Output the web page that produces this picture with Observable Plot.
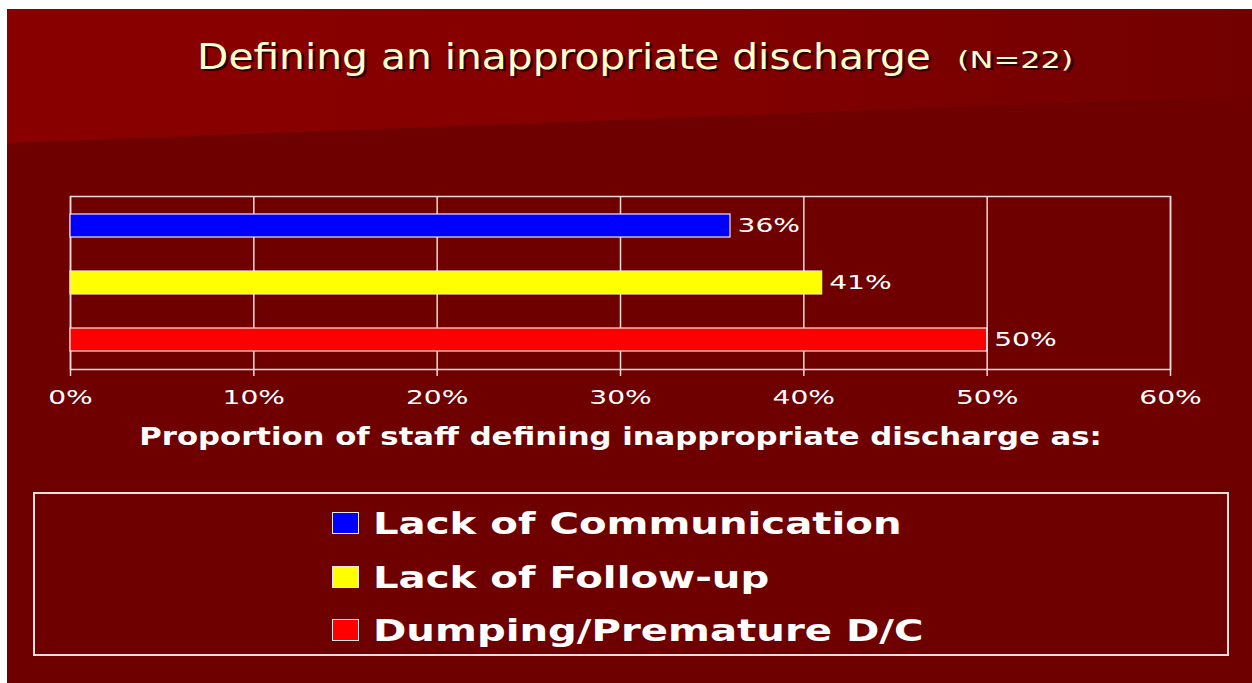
<!DOCTYPE html>
<html>
<head>
<meta charset="utf-8">
<script src="https://cdn.jsdelivr.net/npm/d3@7"></script>
<script src="https://cdn.jsdelivr.net/npm/@observablehq/plot@0.6"></script>
<style>
  html, body { margin: 0; padding: 0; background: #ffffff; }
  #page { position: relative; width: 1252px; height: 683px; overflow: hidden; background: #ffffff;
          font-family: "DejaVu Sans", Verdana, sans-serif; }
  #slide { position: absolute; left: 7px; top: 9px; right: 0; bottom: 0; background: #6f0000; }
  #band { position: absolute; left: 0; top: 0; width: 100%; height: 140px;
          clip-path: polygon(0 0, 100% 0, 100% 87px, 0 134px);
          background: linear-gradient(to right, #8a0000 0%, #860000 45%, #730000 100%); }
  .t { position: absolute; white-space: nowrap; line-height: 1; transform-origin: 0 0; }
  #title { left: 197px; top: 38.5px; font-size: 36px; color: #ffffcc; text-shadow: 2px 2px 0 #2a0000; }
  #titleN { left: 957px; top: 48.5px; font-size: 23px; color: #ffffcc; text-shadow: 2px 2px 0 #2a0000; }
  #chart { position: absolute; left: 0; top: 0; }
  #legend { position: absolute; left: 33px; top: 492px; width: 1196px; height: 164px;
            box-sizing: border-box; border: 2px solid #f2dede; }
  .sw { position: absolute; left: 332px; width: 27px; height: 22px; box-sizing: border-box;
        border: 1.5px solid #f4e6e6; }
  .lt { position: absolute; left: 373px; font-size: 30px; font-weight: bold; color: #ffffff;
        white-space: nowrap; line-height: 1; transform-origin: 0 0; }
</style>
</head>
<body>
<div id="page">
  <div id="slide"><div id="band"></div></div>
  <div id="title" class="t">Defining an inappropriate discharge</div>
  <div id="titleN" class="t">(N=22)</div>
  <div id="chart"></div>
  <div id="legendItems"></div>
  <div id="legend"></div>
</div>
<script>
// ---- data ----
const categories = ["Lack of Communication", "Lack of Follow-up", "Dumping/Premature D/C"];
const values = [36, 41, 50];
const colors = ["#0000ff", "#ffff00", "#ff0000"];
const xTicks = [0, 10, 20, 30, 40, 50, 60];
const xLabel = "Proportion of staff defining inappropriate discharge as:";

const data = categories.map((c, i) => ({category: c, value: values[i]}));

// ---- layout constants ----
const lineColor = "#f0dcdc";
const tickScale = 1.48;
const labelScale = 1.28;
const titleScale = 1.132;
const titleNScale = 1.39;
const legendScale = 1.34;

const chart = Plot.plot({
  width: 1252,
  height: 470,
  marginLeft: 70,
  marginRight: 82,
  marginTop: 196,
  marginBottom: 101,
  style: {background: "transparent", fontFamily: "DejaVu Sans, Verdana, sans-serif", overflow: "visible"},
  x: {domain: [0, 60]},
  y: {domain: categories, paddingInner: 0.6, paddingOuter: 0.3, axis: null},
  color: {domain: categories, range: colors},
  marks: [
    Plot.gridX(xTicks, {stroke: lineColor, strokeOpacity: 1, strokeWidth: 1.5}),
    Plot.frame({stroke: lineColor, strokeWidth: 1.5}),
    Plot.barX(data, {x: "value", y: "category", fill: "category", stroke: "#f4e4e4", strokeWidth: 1.2}),
    Plot.text(data, {x: "value", y: "category", text: d => d.value + "%", textAnchor: "start",
                     dx: 7, fill: "#ffffff", fontSize: 19}),
    Plot.axisX({ticks: xTicks, tickFormat: d => d + "%", tickSize: 7, tickPadding: 14,
                fontSize: 19, fill: "#ffffff", stroke: lineColor, strokeWidth: 1.5,
                label: xLabel, labelAnchor: "center", labelOffset: 75, labelArrow: "none"})
  ]
});
document.getElementById("chart").appendChild(chart);

function stretch(nodes, k) {
  nodes.forEach(t => {
    const L = t.getComputedTextLength();
    t.setAttribute("textLength", (L * k).toFixed(1));
    t.setAttribute("lengthAdjust", "spacingAndGlyphs");
  });
}
const lab = chart.querySelectorAll('g[aria-label="x-axis label"] text');
lab.forEach(t => { t.style.fontSize = "24px"; t.style.fontWeight = "bold"; t.setAttribute("fill", "#ffffff"); });
stretch(lab, labelScale);
stretch(chart.querySelectorAll('g[aria-label="x-axis tick label"] text'), tickScale);
stretch(chart.querySelectorAll('g[aria-label="text"] text'), tickScale);

// ---- title ----
document.getElementById("title").style.transform = `scaleX(${titleScale})`;
document.getElementById("titleN").style.transform = `scaleX(${titleNScale})`;

// ---- legend ----
const legendHost = document.getElementById("legendItems");
const swTops = [512, 566, 619];
categories.forEach((c, i) => {
  const sw = document.createElement("div");
  sw.className = "sw";
  sw.style.top = swTops[i] + "px";
  sw.style.background = colors[i];
  legendHost.appendChild(sw);
  const tx = document.createElement("div");
  tx.className = "lt";
  tx.textContent = c;
  tx.style.top = (swTops[i] + 22 - 25.4) + "px";
  tx.style.transform = `scaleX(${legendScale})`;
  legendHost.appendChild(tx);
});
</script>
</body>
</html>
